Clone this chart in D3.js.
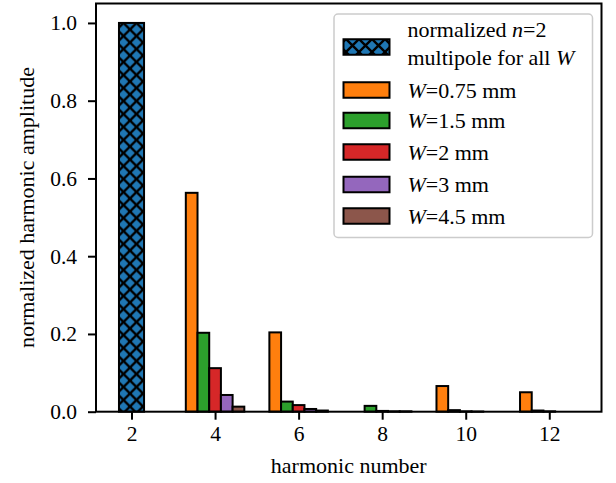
<!DOCTYPE html>
<html>
<head>
<meta charset="utf-8">
<script src="https://cdn.jsdelivr.net/npm/d3@7"></script>
<style>
  html, body { margin: 0; padding: 0; background: #fff; }
  svg { display: block; }
  text { font-family: "Liberation Serif", "Times New Roman", serif; fill: #000; }
</style>
</head>
<body>
<div id="chart"></div>
<script>
// ---- data ----
const n2Harmonic = [2];
const n2Values = [1.0];
const harmonics = [4, 6, 8, 10, 12];
const widthLabels = ["0.75", "1.5", "2", "3", "4.5"];
const w075 = [0.563, 0.204, 0.000, 0.066, 0.050];
const w15  = [0.203, 0.026, 0.015, 0.004, 0.003];
const w2   = [0.112, 0.017, 0.002, 0.001, 0.001];
const w3   = [0.043, 0.007, 0.001, 0.0005, 0.0];
const w45  = [0.013, 0.003, 0.001, 0.0, 0.0];
const xTicks = [2, 4, 6, 8, 10, 12];
const yTicks = [0.0, 0.2, 0.4, 0.6, 0.8, 1.0];

const seriesValues = [w075, w15, w2, w3, w45];
const colors = ["#ff7f0e", "#2ca02c", "#d62728", "#9467bd", "#8c564b"];
const n2Color = "#1f77b4";

// ---- layout ----
const W = 616, H = 483;
const m = { left: 96, top: 3.5, right: 616 - 601.5, bottom: 483 - 411.7 };
const iw = W - m.left - m.right, ih = H - m.top - m.bottom;

const svg = d3.select("#chart").append("svg").attr("width", W).attr("height", H);

const defs = svg.append("defs");
const hs = 13;
const pat = defs.append("pattern").attr("id", "hatch")
  .attr("patternUnits", "userSpaceOnUse").attr("width", hs).attr("height", hs)
  .attr("x", 131.5 - hs / 2).attr("y", 0);
pat.append("rect").attr("width", hs).attr("height", hs).attr("fill", n2Color);
pat.append("path")
  .attr("d", `M${-hs/2},${-hs/2}L${hs*1.5},${hs*1.5}M${-hs/2},${hs*1.5}L${hs*1.5},${-hs/2}`)
  .attr("stroke", "#000").attr("stroke-width", 2.4).attr("fill", "none");

const g = svg.append("g").attr("transform", `translate(${m.left},${m.top})`);

const x = d3.scaleLinear().domain([1.15, 13.25]).range([0, iw]);
const y = d3.scaleLinear().domain([0, 1.05]).range([ih, 0]);

const barW = 0.28;
const n2W = 0.6;

// n=2 bar
g.selectAll(".n2").data(n2Harmonic.map((h, i) => ({ h, v: n2Values[i] }))).join("rect")
  .attr("x", d => x(d.h - n2W / 2))
  .attr("width", d => x(d.h + n2W / 2) - x(d.h - n2W / 2))
  .attr("y", d => y(d.v))
  .attr("height", d => y(0) - y(d.v))
  .attr("fill", "url(#hatch)")
  .attr("stroke", "#000").attr("stroke-width", 2);

// W series bars
seriesValues.forEach((vals, si) => {
  const off = (si - 2) * barW;
  g.selectAll(".s" + si).data(harmonics.map((h, i) => ({ h, v: vals[i] }))).join("rect")
    .attr("x", d => x(d.h + off - barW / 2))
    .attr("width", d => x(d.h + off + barW / 2) - x(d.h + off - barW / 2))
    .attr("y", d => y(d.v))
    .attr("height", d => y(0) - y(d.v))
    .attr("fill", colors[si])
    .attr("stroke", "#000").attr("stroke-width", 2);
});

// axes
const xAxis = d3.axisBottom(x).tickValues(xTicks).tickFormat(d3.format("d")).tickSize(8).tickPadding(6);
const yAxis = d3.axisLeft(y).tickValues(yTicks).tickFormat(d3.format(".1f")).tickSize(8).tickPadding(11);

const gx = g.append("g").attr("transform", `translate(0,${ih})`).call(xAxis);
const gy = g.append("g").call(yAxis);
[gx, gy].forEach(a => {
  a.select(".domain").remove();
  a.selectAll(".tick line").attr("stroke", "#000").attr("stroke-width", 2);
  a.selectAll(".tick text").style("font-size", "21.5px")
    .style("font-family", '"Liberation Serif", "Times New Roman", serif').attr("fill", "#000");
});

// frame
g.append("rect").attr("x", 0).attr("y", 0).attr("width", iw).attr("height", ih)
  .attr("fill", "none").attr("stroke", "#000").attr("stroke-width", 2);

// labels
svg.append("text").attr("x", m.left + iw / 2).attr("y", 472.5)
  .attr("text-anchor", "middle").style("font-size", "22px").text("harmonic number");
svg.append("text").attr("transform", `translate(33.5,${m.top + ih / 2}) rotate(-90)`)
  .attr("text-anchor", "middle").style("font-size", "22px").text("normalized harmonic amplitude");

// legend
const lg = svg.append("g");
lg.append("rect").attr("x", 334).attr("y", 14).attr("width", 258.5).attr("height", 223.5)
  .attr("rx", 4).attr("fill", "#fff").attr("fill-opacity", 0.8)
  .attr("stroke", "#cccccc").attr("stroke-width", 1.5);

const px = 343.5, pw = 46, ph = 15.5, tx = 407.5;
// n=2 entry
lg.append("rect").attr("x", px).attr("y", 47 - ph / 2).attr("width", pw).attr("height", ph)
  .attr("fill", "url(#hatch)").attr("stroke", "#000").attr("stroke-width", 2);
const t1 = lg.append("text").attr("x", tx).attr("y", 37.3).style("font-size", "22px");
t1.append("tspan").text("normalized ");
t1.append("tspan").style("font-style", "italic").text("n");
t1.append("tspan").text("=2");
const t2 = lg.append("text").attr("x", tx).attr("y", 65).style("font-size", "22px");
t2.append("tspan").text("multipole for all ");
t2.append("tspan").style("font-style", "italic").text("W");

const centers = [90, 120.5, 152, 184.5, 216];
widthLabels.forEach((lab, i) => {
  lg.append("rect").attr("x", px).attr("y", centers[i] - ph / 2).attr("width", pw).attr("height", ph)
    .attr("fill", colors[i]).attr("stroke", "#000").attr("stroke-width", 2);
  const t = lg.append("text").attr("x", tx).attr("y", centers[i] + 7.7).style("font-size", "22px");
  t.append("tspan").style("font-style", "italic").text("W");
  t.append("tspan").text("=" + lab + " mm");
});
</script>
</body>
</html>
